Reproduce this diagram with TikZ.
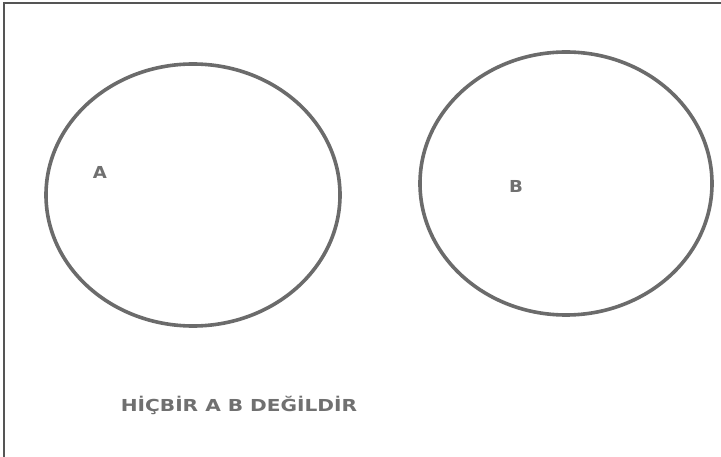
\documentclass[tikz,border=0pt]{standalone}
\usepackage{fontspec}
\setmainfont{DejaVu Sans}
\definecolor{ringgray}{HTML}{6B6B6B}
\definecolor{framegray}{HTML}{555555}
\definecolor{textgray}{HTML}{707070}
\begin{document}
\begin{tikzpicture}[x=1pt,y=-1pt,
  ring/.style={draw=ringgray,line width=3.6pt},
  lbl/.style={text=textgray,font=\bfseries\fontsize{16.5}{18}\selectfont,inner sep=0pt}]
\useasboundingbox (0,0) rectangle (721,457);
\fill[white] (0,0) rectangle (721,457);
\draw[framegray,line width=2pt] (3.5,457) -- (3.5,3.5) -- (721,3.5);
\draw[ring] (193,195) ellipse [x radius=147,y radius=131];
\draw[ring] (566,183.5) ellipse [x radius=146,y radius=131.5];
\node[lbl] (a) at (100,172) {\scalebox{1.1}[1]{A}};
\node[lbl] (b) at (516,186) {\scalebox{1.1}[1]{B}};
\node[lbl] (t) at (239,405) {\scalebox{1.22}[1]{HİÇBİR A B DEĞİLDİR}};
\end{tikzpicture}
\end{document}
